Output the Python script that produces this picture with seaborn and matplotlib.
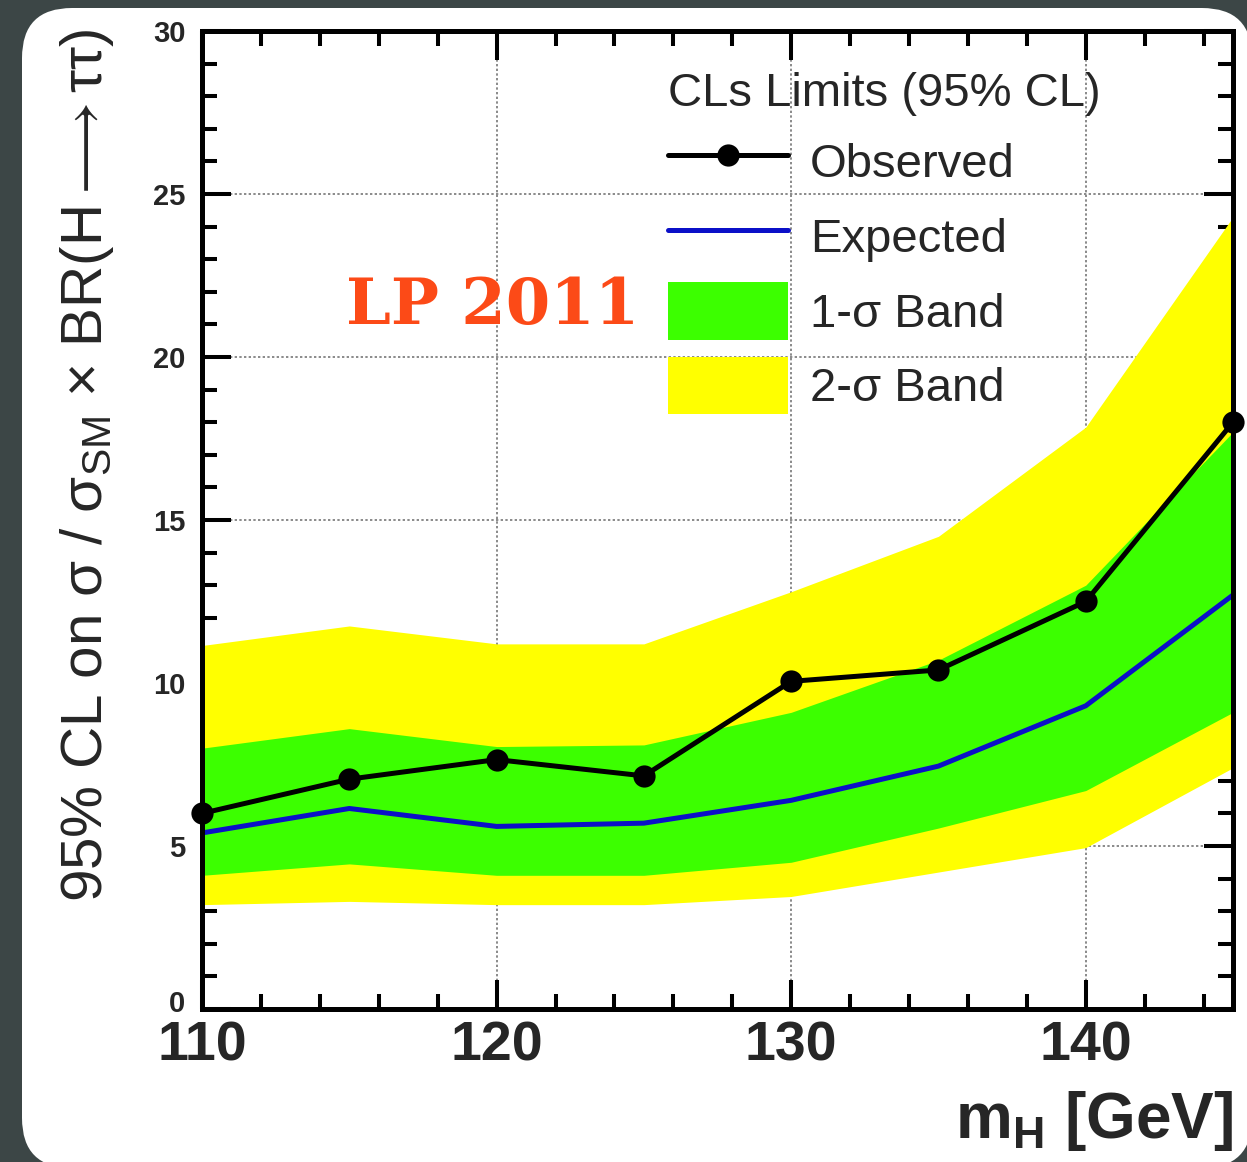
import matplotlib
matplotlib.use("Agg")
import numpy as np
import pandas as pd
import seaborn as sns
import matplotlib.pyplot as plt
from matplotlib.lines import Line2D
from matplotlib.patches import Patch, FancyBboxPatch
from matplotlib.ticker import MultipleLocator
from matplotlib.transforms import ScaledTranslation

# Higgs mass points and CLs 95% CL limits on sigma/sigma_SM x BR(H->tautau)
mass = [110, 115, 120, 125, 130, 135, 140, 145]
observed = [6.0, 7.05, 7.65, 7.15, 10.05, 10.4, 12.5, 18.0]
expected = [5.4, 6.15, 5.6, 5.7, 6.4, 7.45, 9.3, 12.7]
band1_lo = [4.1, 4.45, 4.1, 4.1, 4.5, 5.55, 6.7, 9.1]
band1_hi = [8.0, 8.6, 8.05, 8.1, 9.1, 10.7, 13.0, 17.7]
band2_lo = [3.2, 3.3, 3.2, 3.2, 3.45, 4.2, 4.95, 7.4]
band2_hi = [11.15, 11.75, 11.2, 11.2, 12.8, 14.5, 17.85, 24.3]

x_major = [110, 120, 130, 140]
y_major = [0, 5, 10, 15, 20, 25, 30]
legend_labels = ["Observed", "Expected", "1-σ Band", "2-σ Band"]

df = pd.DataFrame({
    "mass": mass, "observed": observed, "expected": expected,
    "b1lo": band1_lo, "b1hi": band1_hi, "b2lo": band2_lo, "b2hi": band2_hi,
})

sns.set_style("ticks")
plt.rcParams["font.family"] = ["Liberation Sans", "DejaVu Sans"]
plt.rcParams["mathtext.fontset"] = "custom"
plt.rcParams["mathtext.rm"] = "Liberation Sans"
plt.rcParams["mathtext.it"] = "Liberation Sans:italic"
plt.rcParams["mathtext.bf"] = "Liberation Sans:bold"
plt.rcParams["mathtext.fallback"] = "stixsans"

YELLOW = "#ffff00"
GREEN = "#3cff00"
BLUE = "#0b10c8"

fig = plt.figure(figsize=(12.47, 11.62), dpi=100, facecolor="#3c4646")

# rounded white card behind the plot
card = FancyBboxPatch((0.22, -0.06), 12.30, 11.60,
                      boxstyle="round,pad=0,rounding_size=0.5",
                      transform=fig.dpi_scale_trans,
                      facecolor="white", edgecolor="none", zorder=-1)
fig.add_artist(card)

ax = fig.add_axes([0.162, 0.1317, 0.8268, 0.8416])
ax.set_facecolor("white")

# dotted grid at major ticks, kept under the bands
for xv in x_major[1:]:
    ax.axvline(xv, color="#8a8a8a", lw=1.4, ls=(0, (1.2, 1.2)), zorder=0.5)
for yv in y_major[1:-1]:
    ax.axhline(yv, color="#8a8a8a", lw=1.4, ls=(0, (1.2, 1.2)), zorder=0.5)

ax.fill_between(df["mass"], df["b2lo"], df["b2hi"], color=YELLOW, lw=0, zorder=1)
ax.fill_between(df["mass"], df["b1lo"], df["b1hi"], color=GREEN, lw=0, zorder=1.1)

sns.lineplot(data=df, x="mass", y="expected", color=BLUE, lw=3.6, ax=ax, zorder=3)
sns.lineplot(data=df, x="mass", y="observed", color="black", lw=3.6,
             marker="o", markersize=16, markeredgewidth=0, ax=ax,
             zorder=4, clip_on=False)

ax.set_xlim(110, 145)
ax.set_ylim(0, 30)

ax.set_xticks(x_major, labels=[str(v) for v in x_major],
              fontsize=40, fontweight="bold")
ax.set_yticks(y_major, labels=[str(v) for v in y_major],
              fontsize=21, fontweight="bold")
ax.xaxis.set_minor_locator(MultipleLocator(2))
ax.yaxis.set_minor_locator(MultipleLocator(1))
ax.tick_params(which="both", direction="in", top=True, right=True,
               width=2.9, color="black")
ax.tick_params(which="major", length=21)
ax.tick_params(which="minor", length=10.5)
ax.tick_params(axis="x", which="major", pad=8)
ax.tick_params(axis="y", which="major", pad=12)

# lift the "0" label a little so it sits above the 110 label
zero_label = ax.get_yticklabels()[0]
zero_label.set_transform(zero_label.get_transform()
                         + ScaledTranslation(0, 6 / 72, fig.dpi_scale_trans))

for sp in ax.spines.values():
    sp.set_visible(True)
    sp.set_linewidth(3.6)
    sp.set_color("black")
    sp.set_zorder(5)

ax.set_ylabel("95% CL on σ / σ$_{\\mathrm{SM}}$ × BR(H$\\longrightarrow$ττ)",
              fontsize=42)
ax.yaxis.set_label_coords(-0.083, 0.556)
ax.set_xlabel("m$_{\\mathbf{H}}$ [GeV]", fontsize=46, fontweight="bold",
              ha="right")
ax.xaxis.set_label_coords(1.0, -0.082)

handles = [
    Line2D([], [], color="black", lw=3.6, marker="o", markersize=16,
           markeredgewidth=0),
    Line2D([], [], color=BLUE, lw=3.6),
    Patch(facecolor=GREEN, edgecolor="none"),
    Patch(facecolor=YELLOW, edgecolor="none"),
]
ax.legend(handles, legend_labels, title="CLs Limits (95% CL)",
          loc="upper left", bbox_to_anchor=(0.5357, 0.938),
          bbox_transform=fig.transFigure, frameon=False,
          fontsize=34, title_fontsize=34, alignment="left",
          handlelength=2.55, handleheight=1.5, handletextpad=0.45,
          labelspacing=0.36, borderpad=0, borderaxespad=0)

fig.text(0.395, 0.736, "LP 2011", fontsize=46, family="DejaVu Serif",
         fontweight="bold", color="#fc4a17", ha="center", va="center")

fig.savefig("out.png", dpi=100, facecolor=fig.get_facecolor())
